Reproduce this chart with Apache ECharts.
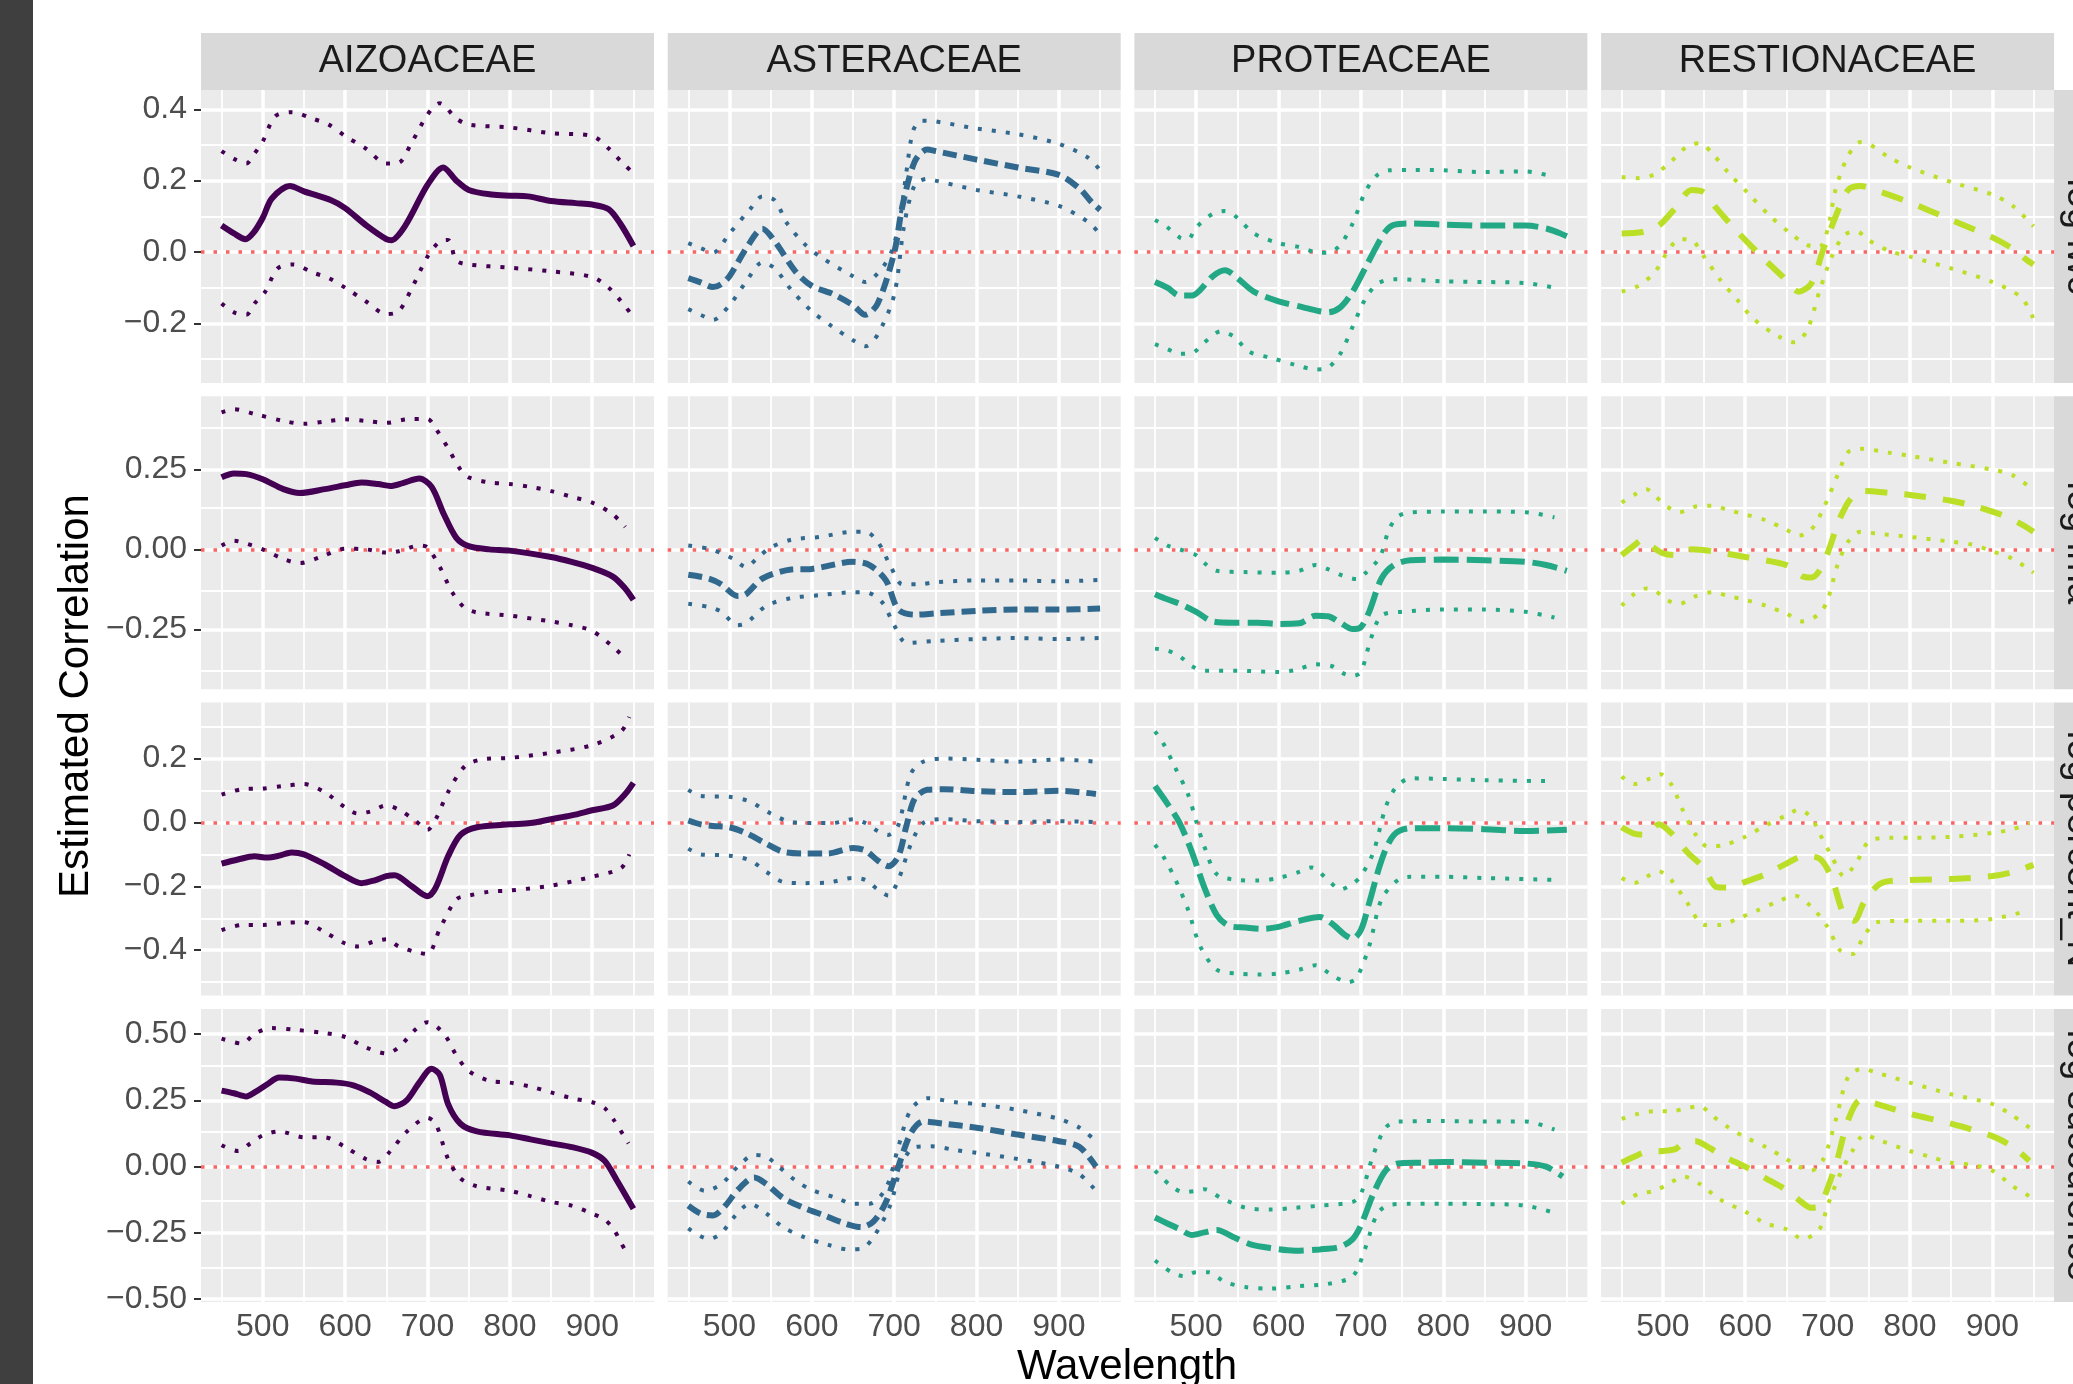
<!DOCTYPE html>
<html><head><meta charset="utf-8">
<script src="https://cdn.jsdelivr.net/npm/echarts@6/dist/echarts.min.js"></script>
<style>html,body{margin:0;padding:0;background:#fff;}#chart{width:2073px;height:1384px;}</style>
</head><body><div id="chart"></div>
<script>
// ---------- categories, colours, ticks ----------
const families = ['AIZOACEAE', 'ASTERACEAE', 'PROTEACEAE', 'RESTIONACEAE'];
const traits = ['log lwc', 'log lma', 'log percent_N', 'log succulence'];
const familyColors = ['#440154', '#31688E', '#22A884', '#BBDF27'];
const xMajor = [500, 600, 700, 800, 900];
const xMinor = [450, 550, 650, 750, 850, 950];
const xLimits = [425, 975];
const yLimitsLwc = [-0.367, 0.454];
const yLimitsLma = [-0.437, 0.478];
const yLimitsN = [-0.542, 0.375];
const yLimitsSucc = [-0.51, 0.595];
const yMajorLwc = [-0.2, 0, 0.2, 0.4];
const yMinorLwc = [-0.3, -0.1, 0.1, 0.3];
const yMajorLma = [-0.25, 0, 0.25];
const yMinorLma = [-0.375, -0.125, 0.125, 0.375];
const yMajorN = [-0.4, -0.2, 0, 0.2];
const yMinorN = [-0.5, -0.3, -0.1, 0.1, 0.3];
const yMajorSucc = [-0.5, -0.25, 0, 0.25, 0.5];
const yMinorSucc = [-0.375, -0.125, 0.125, 0.375];
const yDecimals = [1, 2, 1, 2];

// ---------- row 1: log lwc ----------
const aizo_lwc_est = [[450,0.074],[465,0.052],[479,0.036],[489,0.055],[500,0.096],[511,0.15],[533,0.185],[550,0.17],[583,0.145],[600,0.123],[626,0.074],[650,0.036],[656,0.033],[673,0.074],[700,0.188],[719,0.237],[735,0.2],[750,0.174],[778,0.161],[800,0.158],[822,0.156],[850,0.143],[880,0.137],[900,0.133],[920,0.12],[934,0.08],[950,0.017]];
const aizo_lwc_hi = [[450,0.283],[465,0.261],[480,0.248],[490,0.276],[500,0.31],[515,0.38],[535,0.392],[560,0.374],[580,0.357],[600,0.325],[625,0.29],[650,0.248],[665,0.25],[680,0.303],[700,0.385],[715,0.417],[735,0.374],[750,0.357],[800,0.349],[850,0.333],[900,0.325],[920,0.29],[935,0.254],[950,0.221]];
const aizo_lwc_lo = [[450,-0.144],[465,-0.169],[480,-0.176],[490,-0.144],[503,-0.111],[518,-0.046],[537,-0.035],[560,-0.057],[580,-0.073],[600,-0.1],[625,-0.138],[650,-0.174],[665,-0.166],[680,-0.106],[700,-0.013],[715,0.03],[725,0.034],[735,-0.024],[750,-0.035],[800,-0.044],[850,-0.054],[900,-0.07],[920,-0.1],[935,-0.138],[950,-0.182]];
const aster_lwc_est = [[450,-0.073],[465,-0.085],[480,-0.098],[490,-0.09],[500,-0.068],[520,0.009],[540,0.065],[555,0.03],[580,-0.054],[600,-0.095],[625,-0.117],[650,-0.149],[665,-0.176],[680,-0.144],[700,-0.002],[710,0.129],[725,0.254],[740,0.287],[750,0.283],[800,0.259],[850,0.237],[900,0.216],[925,0.178],[940,0.139],[950,0.118]];
const aster_lwc_hi = [[450,0.025],[465,0.011],[480,-0.002],[500,0.052],[525,0.12],[540,0.156],[555,0.145],[570,0.08],[590,0.025],[610,-0.013],[650,-0.068],[665,-0.084],[685,-0.046],[698,0.009],[708,0.107],[715,0.227],[723,0.34],[733,0.368],[750,0.366],[800,0.346],[850,0.33],[900,0.303],[935,0.265],[950,0.229]];
const aster_lwc_lo = [[450,-0.16],[465,-0.176],[480,-0.19],[500,-0.149],[520,-0.084],[540,-0.029],[555,-0.046],[575,-0.106],[600,-0.166],[625,-0.209],[650,-0.247],[665,-0.264],[680,-0.231],[700,-0.12],[712,0.074],[725,0.188],[740,0.205],[750,0.2],[800,0.174],[850,0.156],[900,0.129],[935,0.085],[950,0.05]];
const prot_lwc_est = [[450,-0.084],[465,-0.1],[480,-0.122],[495,-0.122],[505,-0.106],[520,-0.068],[535,-0.051],[550,-0.073],[570,-0.111],[600,-0.138],[630,-0.155],[650,-0.166],[660,-0.169],[675,-0.155],[690,-0.111],[705,-0.046],[720,0.02],[730,0.058],[740,0.076],[760,0.08],[800,0.077],[850,0.074],[900,0.074],[925,0.066],[940,0.054],[950,0.044]];
const prot_lwc_hi = [[450,0.09],[465,0.069],[480,0.041],[490,0.036],[500,0.069],[520,0.107],[535,0.115],[550,0.096],[570,0.052],[600,0.025],[625,0.014],[650,-0.002],[660,-0.002],[675,0.02],[690,0.08],[705,0.167],[720,0.216],[735,0.229],[760,0.23],[800,0.229],[850,0.224],[900,0.226],[935,0.21]];
const prot_lwc_lo = [[450,-0.258],[465,-0.272],[480,-0.285],[495,-0.283],[510,-0.253],[530,-0.222],[545,-0.236],[565,-0.28],[590,-0.296],[620,-0.316],[645,-0.329],[660,-0.324],[675,-0.285],[690,-0.209],[705,-0.133],[720,-0.089],[740,-0.076],[800,-0.082],[850,-0.084],[900,-0.087],[935,-0.1]];
const rest_lwc_est = [[450,0.052],[475,0.056],[495,0.074],[515,0.123],[535,0.174],[550,0.167],[565,0.123],[590,0.058],[620,-0.013],[645,-0.068],[665,-0.111],[680,-0.089],[695,0.009],[710,0.101],[725,0.174],[740,0.185],[760,0.172],[800,0.139],[850,0.09],[900,0.041],[925,0.009],[940,-0.019],[950,-0.035]];
const rest_lwc_hi = [[450,0.21],[470,0.207],[490,0.218],[510,0.254],[530,0.297],[545,0.305],[560,0.276],[580,0.221],[605,0.161],[630,0.101],[655,0.052],[675,0.02],[690,0.014],[700,0.063],[710,0.178],[725,0.27],[740,0.308],[750,0.303],[775,0.265],[800,0.237],[850,0.196],[900,0.161],[925,0.129],[950,0.072]];
const rest_lwc_lo = [[450,-0.111],[470,-0.095],[490,-0.057],[505,-0.002],[520,0.036],[535,0.033],[550,-0.013],[570,-0.079],[590,-0.133],[610,-0.187],[640,-0.236],[660,-0.253],[675,-0.22],[690,-0.111],[705,-0.013],[720,0.047],[735,0.058],[750,0.033],[775,0.003],[800,-0.013],[850,-0.046],[900,-0.084],[935,-0.127],[950,-0.187]];

// ---------- row 2: log lma ----------
const aizo_lma_est = [[450,0.225],[465,0.237],[480,0.235],[500,0.219],[525,0.188],[545,0.176],[575,0.188],[600,0.2],[620,0.209],[640,0.204],[655,0.198],[670,0.207],[690,0.221],[705,0.195],[720,0.109],[735,0.036],[750,0.01],[775,0.0],[800,-0.004],[850,-0.024],[875,-0.039],[900,-0.058],[925,-0.085],[940,-0.122],[950,-0.158]];
const aizo_lma_hi = [[450,0.428],[465,0.438],[490,0.423],[525,0.401],[550,0.392],[575,0.399],[600,0.406],[625,0.401],[650,0.395],[675,0.406],[700,0.407],[710,0.377],[725,0.316],[740,0.249],[750,0.225],[775,0.209],[800,0.204],[825,0.195],[850,0.182],[875,0.164],[900,0.146],[925,0.109],[940,0.07]];
const aizo_lma_lo = [[450,0.012],[465,0.027],[480,0.018],[500,0.0],[525,-0.03],[545,-0.043],[570,-0.024],[600,0.002],[625,0.0],[650,-0.01],[665,-0.006],[690,0.012],[700,0.006],[715,-0.055],[730,-0.134],[745,-0.182],[760,-0.197],[800,-0.207],[850,-0.225],[875,-0.237],[900,-0.255],[925,-0.304],[940,-0.34]];
const aster_lma_est = [[450,-0.079],[475,-0.091],[490,-0.109],[510,-0.146],[520,-0.14],[540,-0.091],[575,-0.063],[600,-0.061],[650,-0.039],[670,-0.049],[690,-0.097],[705,-0.188],[725,-0.204],[750,-0.2],[800,-0.192],[850,-0.188],[900,-0.188],[950,-0.185]];
const aster_lma_hi = [[450,0.012],[475,0.002],[490,-0.012],[505,-0.03],[520,-0.055],[535,-0.024],[550,0.006],[575,0.03],[610,0.039],[650,0.055],[665,0.055],[680,0.024],[695,-0.049],[710,-0.109],[730,-0.109],[750,-0.103],[800,-0.097],[850,-0.097],[900,-0.1],[950,-0.095]];
const aster_lma_lo = [[450,-0.17],[475,-0.18],[490,-0.195],[510,-0.237],[520,-0.231],[545,-0.176],[575,-0.152],[610,-0.143],[650,-0.134],[665,-0.134],[685,-0.164],[700,-0.237],[715,-0.292],[750,-0.286],[800,-0.28],[850,-0.277],[900,-0.28],[950,-0.277]];
const prot_lma_est = [[450,-0.14],[465,-0.156],[480,-0.17],[500,-0.195],[520,-0.225],[545,-0.229],[575,-0.229],[600,-0.233],[625,-0.231],[645,-0.207],[660,-0.209],[675,-0.229],[690,-0.249],[700,-0.243],[710,-0.195],[725,-0.091],[740,-0.049],[760,-0.034],[800,-0.032],[850,-0.034],[900,-0.039],[925,-0.049],[950,-0.067]];
const prot_lma_hi = [[450,0.036],[465,0.012],[480,0.0],[500,-0.018],[510,-0.043],[525,-0.067],[560,-0.071],[600,-0.073],[625,-0.067],[645,-0.049],[660,-0.062],[678,-0.082],[695,-0.093],[706,-0.073],[723,-0.024],[734,0.061],[745,0.103],[760,0.115],[800,0.118],[850,0.118],[900,0.116],[935,0.1]];
const prot_lma_lo = [[450,-0.31],[465,-0.316],[480,-0.334],[495,-0.365],[510,-0.379],[550,-0.379],[600,-0.383],[620,-0.377],[645,-0.359],[665,-0.365],[680,-0.389],[690,-0.395],[700,-0.383],[712,-0.28],[725,-0.207],[750,-0.195],[800,-0.188],[850,-0.188],[900,-0.195],[935,-0.213]];
const rest_lma_est = [[450,-0.018],[465,0.012],[475,0.03],[485,0.012],[500,-0.012],[515,-0.018],[535,0.0],[560,-0.006],[600,-0.024],[650,-0.049],[670,-0.085],[680,-0.088],[690,-0.067],[700,-0.012],[715,0.097],[730,0.164],[745,0.182],[775,0.176],[800,0.17],[850,0.152],[880,0.134],[910,0.109],[935,0.079],[950,0.055]];
const rest_lma_hi = [[450,0.146],[465,0.17],[480,0.188],[490,0.168],[505,0.134],[520,0.116],[540,0.134],[560,0.136],[580,0.122],[600,0.109],[625,0.091],[650,0.061],[665,0.043],[680,0.061],[695,0.128],[712,0.231],[725,0.304],[740,0.314],[775,0.302],[800,0.292],[850,0.27],[900,0.249],[925,0.231],[950,0.185]];
const rest_lma_lo = [[450,-0.176],[465,-0.14],[480,-0.122],[490,-0.128],[505,-0.158],[520,-0.17],[540,-0.146],[560,-0.134],[580,-0.146],[600,-0.158],[625,-0.176],[650,-0.201],[670,-0.225],[690,-0.201],[700,-0.158],[712,-0.049],[725,0.024],[740,0.055],[760,0.049],[800,0.039],[850,0.024],[875,0.015],[900,-0.006],[925,-0.03],[950,-0.073]];

// ---------- row 3: log percent_N ----------
const aizo_n_est = [[450,-0.129],[470,-0.116],[490,-0.106],[505,-0.11],[520,-0.104],[535,-0.094],[550,-0.1],[575,-0.131],[600,-0.168],[620,-0.19],[635,-0.182],[650,-0.168],[660,-0.165],[680,-0.198],[700,-0.231],[710,-0.204],[725,-0.106],[740,-0.039],[760,-0.015],[800,-0.006],[825,-0.002],[850,0.01],[875,0.022],[900,0.038],[925,0.053],[940,0.089],[950,0.124]];
const aizo_n_hi = [[450,0.087],[475,0.104],[500,0.106],[525,0.114],[550,0.12],[575,0.095],[600,0.047],[615,0.028],[630,0.034],[650,0.053],[665,0.04],[685,0.006],[700,-0.023],[710,0.01],[725,0.095],[745,0.175],[765,0.197],[800,0.202],[850,0.218],[900,0.242],[935,0.285],[945,0.33]];
const aizo_n_lo = [[450,-0.337],[475,-0.321],[500,-0.321],[525,-0.315],[550,-0.312],[575,-0.343],[600,-0.379],[615,-0.388],[635,-0.373],[650,-0.366],[665,-0.388],[685,-0.405],[700,-0.412],[715,-0.333],[735,-0.241],[750,-0.229],[775,-0.217],[800,-0.213],[850,-0.198],[900,-0.17],[935,-0.143],[945,-0.1]];
const aster_n_est = [[450,0.006],[465,-0.006],[480,-0.011],[500,-0.015],[520,-0.033],[545,-0.067],[565,-0.092],[590,-0.097],[620,-0.097],[650,-0.08],[665,-0.088],[680,-0.119],[693,-0.137],[705,-0.106],[715,-0.009],[725,0.075],[740,0.102],[760,0.104],[800,0.098],[850,0.095],[900,0.099],[945,0.089]];
const aster_n_hi = [[450,0.102],[465,0.083],[500,0.08],[525,0.065],[550,0.028],[575,0.001],[600,-0.002],[625,-0.002],[650,0.01],[665,-0.002],[680,-0.027],[693,-0.039],[705,-0.009],[720,0.151],[735,0.19],[760,0.2],[800,0.196],[850,0.19],[900,0.197],[945,0.19]];
const aster_n_lo = [[450,-0.082],[465,-0.1],[500,-0.104],[525,-0.119],[545,-0.155],[565,-0.186],[590,-0.19],[620,-0.188],[650,-0.174],[665,-0.18],[680,-0.21],[693,-0.229],[705,-0.18],[720,-0.07],[735,-0.002],[760,0.01],[800,0.004],[850,0.001],[900,0.004],[945,0.001]];
const prot_n_est = [[450,0.114],[465,0.059],[480,-0.002],[495,-0.094],[510,-0.204],[525,-0.29],[540,-0.324],[560,-0.329],[580,-0.333],[600,-0.327],[625,-0.308],[650,-0.296],[665,-0.317],[680,-0.351],[690,-0.364],[700,-0.337],[710,-0.253],[725,-0.119],[740,-0.039],[760,-0.018],[800,-0.018],[850,-0.021],[900,-0.027],[950,-0.023]];
const prot_n_hi = [[450,0.285],[460,0.248],[475,0.169],[490,0.089],[500,0.004],[510,-0.076],[525,-0.162],[550,-0.18],[575,-0.182],[600,-0.174],[625,-0.155],[640,-0.141],[660,-0.18],[675,-0.21],[690,-0.192],[700,-0.168],[715,-0.094],[730,0.047],[742,0.108],[760,0.138],[800,0.136],[850,0.132],[935,0.129]];
const prot_n_lo = [[450,-0.07],[460,-0.106],[475,-0.18],[490,-0.272],[505,-0.388],[525,-0.461],[550,-0.473],[575,-0.476],[600,-0.473],[625,-0.461],[645,-0.447],[665,-0.479],[685,-0.5],[695,-0.486],[710,-0.388],[725,-0.241],[745,-0.18],[760,-0.17],[800,-0.17],[850,-0.174],[935,-0.18]];
const rest_n_est = [[450,-0.015],[465,-0.035],[480,-0.039],[495,-0.006],[510,-0.033],[530,-0.094],[550,-0.143],[565,-0.202],[580,-0.204],[600,-0.186],[625,-0.162],[650,-0.129],[670,-0.106],[690,-0.113],[705,-0.174],[720,-0.29],[732,-0.308],[745,-0.247],[765,-0.19],[800,-0.18],[850,-0.177],[900,-0.168],[925,-0.155],[950,-0.133]];
const rest_n_hi = [[450,0.144],[465,0.12],[485,0.138],[497,0.151],[510,0.12],[525,0.034],[540,-0.039],[555,-0.076],[575,-0.07],[600,-0.045],[625,-0.009],[650,0.022],[665,0.04],[680,0.016],[690,-0.033],[705,-0.106],[720,-0.168],[735,-0.125],[750,-0.06],[775,-0.048],[800,-0.048],[850,-0.045],[900,-0.033],[925,-0.021],[945,-0.002]];
const rest_n_lo = [[450,-0.174],[465,-0.19],[480,-0.17],[495,-0.153],[510,-0.18],[530,-0.253],[550,-0.321],[570,-0.321],[590,-0.302],[615,-0.275],[640,-0.247],[660,-0.229],[680,-0.263],[700,-0.327],[715,-0.4],[730,-0.412],[745,-0.351],[760,-0.312],[800,-0.308],[850,-0.308],[900,-0.302],[945,-0.275]];

// ---------- row 4: log succulence ----------
const aizo_succ_est = [[450,0.287],[465,0.277],[480,0.265],[490,0.28],[505,0.31],[520,0.336],[540,0.332],[560,0.321],[590,0.317],[610,0.307],[630,0.28],[650,0.243],[660,0.228],[675,0.251],[690,0.317],[705,0.369],[715,0.346],[725,0.236],[740,0.162],[760,0.133],[800,0.118],[825,0.103],[850,0.088],[875,0.074],[900,0.052],[915,0.022],[930,-0.052],[950,-0.159]];
const aizo_succ_hi = [[450,0.483],[475,0.464],[490,0.501],[510,0.523],[540,0.516],[575,0.504],[600,0.489],[625,0.45],[650,0.427],[665,0.45],[685,0.516],[700,0.545],[720,0.501],[735,0.42],[750,0.361],[775,0.324],[800,0.317],[825,0.302],[850,0.28],[875,0.258],[900,0.243],[915,0.221],[926,0.177],[944,0.088]];
const aizo_succ_lo = [[450,0.081],[470,0.059],[485,0.088],[500,0.118],[520,0.133],[550,0.111],[575,0.111],[600,0.074],[625,0.029],[640,0.018],[655,0.059],[675,0.133],[700,0.184],[710,0.162],[725,0.029],[740,-0.044],[760,-0.074],[800,-0.091],[825,-0.111],[850,-0.133],[875,-0.147],[900,-0.177],[915,-0.199],[926,-0.236],[935,-0.287],[944,-0.339]];
const aster_succ_est = [[450,-0.147],[465,-0.177],[480,-0.184],[495,-0.147],[510,-0.088],[530,-0.041],[545,-0.066],[565,-0.118],[590,-0.155],[615,-0.184],[640,-0.214],[660,-0.228],[675,-0.206],[690,-0.133],[705,0.0],[720,0.125],[735,0.17],[760,0.162],[800,0.147],[850,0.121],[900,0.096],[925,0.074],[945,0.0]];
const aster_succ_hi = [[450,-0.056],[470,-0.091],[490,-0.066],[510,0.0],[530,0.044],[545,0.037],[560,0.0],[580,-0.052],[600,-0.088],[630,-0.118],[650,-0.14],[670,-0.14],[690,-0.081],[705,0.074],[720,0.214],[740,0.258],[775,0.243],[800,0.236],[850,0.214],[900,0.18],[925,0.147],[945,0.096]];
const aster_succ_lo = [[450,-0.233],[475,-0.273],[490,-0.251],[505,-0.192],[525,-0.14],[545,-0.177],[565,-0.228],[590,-0.265],[620,-0.295],[645,-0.312],[660,-0.31],[675,-0.265],[695,-0.147],[710,0.015],[725,0.074],[745,0.077],[775,0.062],[800,0.052],[850,0.029],[900,0.0],[925,-0.029],[945,-0.091]];
const prot_succ_est = [[450,-0.192],[465,-0.214],[480,-0.236],[495,-0.258],[510,-0.248],[525,-0.239],[545,-0.265],[565,-0.292],[590,-0.307],[620,-0.317],[650,-0.312],[675,-0.302],[690,-0.273],[700,-0.221],[715,-0.103],[730,-0.015],[745,0.012],[775,0.015],[800,0.018],[850,0.015],[900,0.012],[925,0.0],[945,-0.037]];
const prot_succ_hi = [[450,-0.015],[470,-0.074],[485,-0.096],[500,-0.091],[510,-0.085],[530,-0.118],[560,-0.155],[590,-0.162],[620,-0.155],[650,-0.147],[690,-0.133],[700,-0.103],[715,0.044],[730,0.147],[745,0.17],[800,0.172],[850,0.17],[900,0.17],[935,0.14]];
const prot_succ_lo = [[450,-0.354],[470,-0.398],[485,-0.413],[500,-0.398],[515,-0.398],[535,-0.435],[560,-0.454],[590,-0.46],[625,-0.45],[660,-0.442],[690,-0.413],[705,-0.31],[720,-0.177],[735,-0.144],[760,-0.14],[800,-0.14],[850,-0.141],[900,-0.147],[935,-0.174]];
const rest_succ_est = [[450,0.015],[465,0.037],[480,0.056],[500,0.059],[515,0.066],[525,0.088],[540,0.096],[555,0.074],[575,0.037],[600,0.0],[625,-0.044],[650,-0.088],[665,-0.125],[680,-0.155],[690,-0.15],[700,-0.081],[712,0.029],[725,0.177],[740,0.251],[760,0.236],[800,0.199],[850,0.162],[900,0.115],[925,0.074],[945,0.022]];
const rest_succ_hi = [[450,0.18],[470,0.199],[490,0.209],[510,0.209],[530,0.221],[545,0.228],[560,0.192],[580,0.147],[600,0.111],[625,0.074],[650,0.029],[665,0.0],[680,-0.015],[695,0.029],[710,0.177],[725,0.339],[742,0.369],[760,0.354],[800,0.317],[850,0.273],[900,0.236],[925,0.192],[945,0.147]];
const rest_succ_lo = [[450,-0.14],[470,-0.103],[490,-0.091],[510,-0.059],[525,-0.037],[545,-0.066],[570,-0.125],[600,-0.17],[625,-0.214],[650,-0.236],[670,-0.273],[690,-0.236],[700,-0.147],[715,-0.029],[730,0.059],[745,0.121],[760,0.103],[800,0.059],[825,0.037],[850,0.015],[875,0.007],[900,-0.015],[925,-0.074],[945,-0.111]];

// ---------- tables built from the arrays ----------
const yLimits = [yLimitsLwc, yLimitsLma, yLimitsN, yLimitsSucc];
const yMajor = [yMajorLwc, yMajorLma, yMajorN, yMajorSucc];
const yMinor = [yMinorLwc, yMinorLma, yMinorN, yMinorSucc];
const panelData = [
  [[aizo_lwc_est, aizo_lwc_lo, aizo_lwc_hi], [aster_lwc_est, aster_lwc_lo, aster_lwc_hi], [prot_lwc_est, prot_lwc_lo, prot_lwc_hi], [rest_lwc_est, rest_lwc_lo, rest_lwc_hi]],
  [[aizo_lma_est, aizo_lma_lo, aizo_lma_hi], [aster_lma_est, aster_lma_lo, aster_lma_hi], [prot_lma_est, prot_lma_lo, prot_lma_hi], [rest_lma_est, rest_lma_lo, rest_lma_hi]],
  [[aizo_n_est, aizo_n_lo, aizo_n_hi], [aster_n_est, aster_n_lo, aster_n_hi], [prot_n_est, prot_n_lo, prot_n_hi], [rest_n_est, rest_n_lo, rest_n_hi]],
  [[aizo_succ_est, aizo_succ_lo, aizo_succ_hi], [aster_succ_est, aster_succ_lo, aster_succ_hi], [prot_succ_est, prot_succ_lo, prot_succ_hi], [rest_succ_est, rest_succ_lo, rest_succ_hi]]
];

// ---------- layout & style ----------
const FONT = '"Liberation Sans", Arial, Helvetica, sans-serif';
const PW = 453, PH = 293;
const colLeft = c => 201 + c * 466.7;
const rowTop = r => 90 + r * 306.3;
const estDash = ['solid', [14, 7], [25, 8], [22, 17]];
const GRID_MAJOR = { color: '#FFFFFF', width: 3.5, type: 'solid' };
const GRID_MINOR = { color: '#FFFFFF', width: 1.8, type: 'solid' };

function fmt(v, d) {
  const s = Math.abs(v) < 1e-9 ? (0).toFixed(d) : v.toFixed(d);
  return s.replace('-', '\u2212');
}

const grids = [], xAxes = [], yAxes = [], series = [];
for (let r = 0; r < 4; r++) {
  for (let c = 0; c < 4; c++) {
    const i = r * 4 + c;
    grids.push({ left: colLeft(c), top: rowTop(r), width: PW, height: PH, show: true,
      backgroundColor: '#EBEBEB', borderWidth: 0, containLabel: false });
    xAxes.push({ gridIndex: i, type: 'value', min: xLimits[0], max: xLimits[1],
      axisLine: { show: false }, splitLine: { show: false },
      axisTick: { show: r === 3, customValues: xMajor, length: 7, lineStyle: { color: '#333333', width: 2 } },
      axisLabel: { show: r === 3, customValues: xMajor, fontSize: 32, color: '#4D4D4D', fontFamily: FONT, margin: 9 } });
    yAxes.push({ gridIndex: i, type: 'value', min: yLimits[r][0], max: yLimits[r][1],
      axisLine: { show: false }, splitLine: { show: false },
      axisTick: { show: c === 0, customValues: yMajor[r], length: 7, lineStyle: { color: '#333333', width: 2 } },
      axisLabel: { show: c === 0, customValues: yMajor[r], fontSize: 32, color: '#4D4D4D', fontFamily: FONT, margin: 14,
        formatter: (v) => fmt(v, yDecimals[r]) } });

    const gl = [];
    yMinor[r].forEach(v => gl.push({ yAxis: v, lineStyle: GRID_MINOR }));
    xMinor.forEach(v => gl.push({ xAxis: v, lineStyle: GRID_MINOR }));
    yMajor[r].forEach(v => gl.push({ yAxis: v, lineStyle: GRID_MAJOR }));
    xMajor.forEach(v => gl.push({ xAxis: v, lineStyle: GRID_MAJOR }));
    series.push({ type: 'line', xAxisIndex: i, yAxisIndex: i, data: [], silent: true, z: 1,
      markLine: { silent: true, symbol: ['none', 'none'], label: { show: false }, animation: false, z: 1,
        emphasis: { disabled: true }, data: gl } });
    series.push({ type: 'line', xAxisIndex: i, yAxisIndex: i, data: [], silent: true, z: 2,
      markLine: { silent: true, symbol: ['none', 'none'], label: { show: false }, animation: false, z: 2,
        emphasis: { disabled: true },
        data: [{ yAxis: 0, lineStyle: { color: '#F96464', width: 3.5, type: [3.5, 9], cap: 'butt' } }] } });

    const [est, lo, hi] = panelData[r][c];
    const col = familyColors[c];
    [lo, hi].forEach(d => series.push({ type: 'line', xAxisIndex: i, yAxisIndex: i, data: d,
      showSymbol: false, symbol: 'none', smooth: 0.3, silent: true, z: 3,
      lineStyle: { color: col, width: 4, type: [4, 10], cap: 'butt' } }));
    series.push({ type: 'line', xAxisIndex: i, yAxisIndex: i, data: est,
      showSymbol: false, symbol: 'none', smooth: 0.3, silent: true, z: 4,
      lineStyle: { color: col, width: 6, type: estDash[c], cap: 'butt' } });
  }
}

const graphics = [];
graphics.push({ type: 'rect', shape: { x: 0, y: 0, width: 33, height: 1384 }, style: { fill: '#3F3F3F' }, z: 10 });
for (let c = 0; c < 4; c++) {
  graphics.push({ type: 'rect', shape: { x: colLeft(c), y: 33, width: PW, height: 57 }, style: { fill: '#D9D9D9' } });
  graphics.push({ type: 'text', x: colLeft(c) + PW / 2, y: 62,
    style: { text: families[c], fontSize: 38, fontFamily: FONT, fill: '#1A1A1A',
      align: 'center', verticalAlign: 'middle', textAlign: 'center', textVerticalAlign: 'middle' } });
}
for (let r = 0; r < 4; r++) {
  graphics.push({ type: 'rect', shape: { x: 2054, y: rowTop(r), width: 60, height: PH }, style: { fill: '#D9D9D9' } });
  graphics.push({ type: 'text', x: 2078, y: rowTop(r) + PH / 2, rotation: -Math.PI / 2,
    style: { text: traits[r], fontSize: 38, fontFamily: FONT, fill: '#1A1A1A',
      align: 'center', verticalAlign: 'middle', textAlign: 'center', textVerticalAlign: 'middle' } });
}
graphics.push({ type: 'text', x: 76, y: 696, rotation: Math.PI / 2,
  style: { text: 'Estimated Correlation', fontSize: 42, fontFamily: FONT, fill: '#000000',
    align: 'center', verticalAlign: 'middle', textAlign: 'center', textVerticalAlign: 'middle' } });
graphics.push({ type: 'text', x: 1127, y: 1367,
  style: { text: 'Wavelength', fontSize: 42, fontFamily: FONT, fill: '#000000',
    align: 'center', verticalAlign: 'middle', textAlign: 'center', textVerticalAlign: 'middle' } });

const chart = echarts.init(document.getElementById('chart'), null, { renderer: 'canvas', width: 2073, height: 1384 });
chart.setOption({
  backgroundColor: '#FFFFFF',
  animation: false,
  grid: grids,
  xAxis: xAxes,
  yAxis: yAxes,
  series: series,
  graphic: { elements: graphics }
});
</script></body></html>
